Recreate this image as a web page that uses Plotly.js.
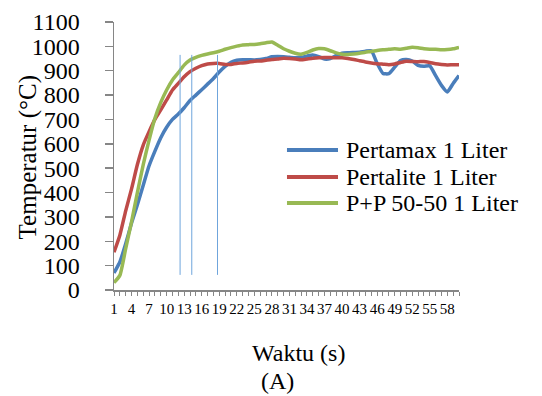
<!DOCTYPE html>
<html>
<head>
<meta charset="utf-8">
<script src="https://cdn.plot.ly/plotly-3.0.1.min.js"></script>
<style>html,body{margin:0;padding:0;background:#fff}#chart{width:542px;height:396px}</style>
</head>
<body>
<div id="chart"></div>
<script>
// Time categories (s)
var waktu = [1,2,3,4,5,6,7,8,9,10,11,12,13,14,15,16,17,18,19,20,
             21,22,23,24,25,26,27,28,29,30,31,32,33,34,35,36,37,38,39,40,
             41,42,43,44,45,46,47,48,49,50,51,52,53,54,55,56,57,58,59,60];

var pertamax = [70,115,190,275,350,430,510,570,625,668,
                700,722,748,778,800,822,845,868,895,918,
                935,943,945,945,944,946,950,957,958,957,
                955,953,955,960,965,958,948,950,962,972,
                974,975,976,980,982,930,889,888,915,942,
                946,940,922,918,920,880,840,813,848,880];

var pertalite = [155,225,325,415,515,595,650,700,739,780,
                 821,848,875,896,910,921,928,930,930,926,
                 926,930,932,935,939,940,943,946,948,951,
                 950,948,945,948,951,953,954,954,953,953,
                 950,946,941,936,932,929,927,925,928,934,
                 939,938,937,938,934,929,926,924,925,925];

var pp5050 = [30,60,170,280,400,515,615,705,770,821,
              862,892,923,944,955,963,969,974,980,988,
              995,1001,1006,1007,1008,1011,1015,1018,1005,990,
              980,972,968,975,985,991,990,982,973,968,
              967,969,972,976,979,983,986,988,990,988,
              992,996,994,990,988,988,986,987,990,996];

var seriesNames = ["Pertamax 1 Liter", "Pertalite 1 Liter", "P+P 50-50 1 Liter"];
var tickLabels = ["1","4","7","10","13","16","19","22","25","28","31","34","37","40","43","46","49","52","55","58"];

// Thin vertical marker lines (x in time units, y extent in °C)
var markerX = [12.3, 14.3, 18.7];
var markerYLow = 62, markerYHigh = 965;

var colors = ["#4a7ebb", "#be4b48", "#98b954"];
var serif = "Liberation Serif";

var traces = [pertamax, pertalite, pp5050].map(function (ys, k) {
  return {
    x: waktu, y: ys, type: "scatter", mode: "lines", name: seriesNames[k],
    line: {color: colors[k], width: 3.5, shape: "spline", smoothing: 0.5}
  };
});

var tv = [], tt = [];
waktu.forEach(function (w) {
  tv.push(w);
  tt.push(tickLabels.indexOf(String(w)) >= 0 ? String(w) : "");
});

var shapes = markerX.map(function (mx) {
  return {type: "line", xref: "x", yref: "y", x0: mx, x1: mx, y0: markerYLow, y1: markerYHigh,
          line: {color: "#6fa5dc", width: 1}};
});

var annotations = [
  {text: "Temperatur (°C)", xref: "paper", yref: "paper", x: -0.249, y: 0.495,
   xanchor: "center", yanchor: "middle", textangle: -90, showarrow: false,
   font: {family: serif, size: 25, color: "#000"}},
  {text: "Waktu (s)", xref: "paper", yref: "paper", x: 0.536, y: -0.235,
   xanchor: "center", yanchor: "middle", showarrow: false,
   font: {family: serif, size: 24, color: "#000"}},
  {text: "(A)", xref: "paper", yref: "paper", x: 0.475, y: -0.395,
   xanchor: "center", yanchor: "bottom", showarrow: false,
   font: {family: serif, size: 24, color: "#000"}}
];

// Legend drawn in paper space (layout only)
var legRowY = [0.5224, 0.4216, 0.3246];
seriesNames.forEach(function (nm, k) {
  shapes.push({type: "line", xref: "paper", yref: "paper", x0: 0.5014, x1: 0.6493,
               y0: legRowY[k], y1: legRowY[k], line: {color: colors[k], width: 4}});
  annotations.push({text: nm, xref: "paper", yref: "paper", x: 0.6667, y: legRowY[k],
                    xanchor: "left", yanchor: "middle", showarrow: false,
                    font: {family: serif, size: 24, color: "#000"}});
});

var layout = {
  width: 542, height: 396,
  margin: {l: 114, r: 83, t: 22, b: 106, pad: 0},
  paper_bgcolor: "#fff", plot_bgcolor: "#fff",
  font: {family: serif, color: "#000"},
  showlegend: false,
  xaxis: {
    range: [1, 60], tickmode: "array", tickvals: tv, ticktext: tt, tickangle: 0,
    ticks: "outside", ticklen: 4, tickcolor: "#868686", tickwidth: 1,
    showline: true, linecolor: "#868686", linewidth: 1.5,
    showgrid: false, zeroline: false,
    tickfont: {family: serif, size: 15, color: "#000"}
  },
  yaxis: {
    range: [0, 1100], dtick: 100, tick0: 0,
    ticks: "outside", ticklen: 8, tickcolor: "#868686", tickwidth: 1.5,
    showline: true, linecolor: "#868686", linewidth: 1.5,
    showgrid: false, zeroline: false, ticklabelstandoff: 20,
    tickfont: {family: serif, size: 24, color: "#000"}
  },
  shapes: shapes,
  annotations: annotations
};

Plotly.newPlot("chart", traces, layout, {displayModeBar: false, staticPlot: true});
</script>
</body>
</html>
